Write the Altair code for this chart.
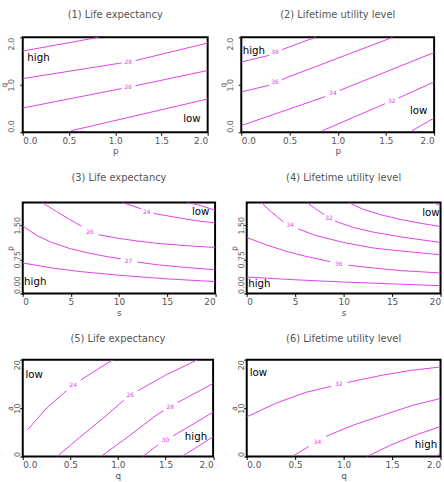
import altair as alt
import pandas as pd

MAGENTA = "#e040e8"
GREY = "#555555"
TAG_FONT = "Liberation Sans Narrow, DejaVu Sans Condensed, Liberation Sans"

# ---------------------------------------------------------------------------
# Contour polylines, one list of (x, y) points per drawn segment.
# Segments are split where a level label sits on the curve.
# ---------------------------------------------------------------------------

# (1) Life expectancy: x = p, y = q
p1_lines = [
    [(0.0, 1.71), (0.82, 2.0)],
    [(0.0, 1.13), (1.07, 1.46)],
    [(1.22, 1.51), (2.0, 1.88)],
    [(0.0, 0.51), (1.07, 0.92)],
    [(1.22, 0.98), (2.0, 1.30)],
    [(0.52, 0.03), (2.0, 0.70)],
]
p1_labels = [(1.14, 1.48, "28"), (1.14, 0.95, "26")]
p1_tags = [(0.17, 1.56, "high"), (1.83, 0.27, "low")]

# (2) Lifetime utility level: x = p, y = q
p2_lines = [
    [(0.0, 1.48), (0.29, 1.62)],
    [(0.42, 1.74), (0.77, 2.0)],
    [(0.0, 0.85), (0.29, 0.99)],
    [(0.42, 1.11), (1.57, 2.0)],
    [(0.0, 0.14), (0.87, 0.75)],
    [(1.02, 0.88), (2.0, 1.68)],
    [(0.84, 0.03), (1.49, 0.60)],
    [(1.63, 0.72), (2.0, 1.06)],
    [(1.77, 0.03), (2.0, 0.30)],
]
p2_labels = [(0.35, 1.68, "38"), (0.35, 1.05, "36"), (0.95, 0.82, "34"), (1.56, 0.66, "32")]
p2_tags = [(0.13, 1.72, "high"), (1.84, 0.45, "low")]

# (3) Life expectancy: x = s, y = p
p3_lines = [
    [(17.1, 2.0), (18.5, 1.93), (20.0, 1.83)],
    [(10.3, 2.0), (11.5, 1.92), (12.3, 1.86)],
    [(13.6, 1.76), (16.0, 1.67), (18.0, 1.60), (20.0, 1.55)],
    [(2.0, 2.0), (3.5, 1.80), (5.0, 1.61), (6.1, 1.48)],
    [(7.9, 1.29), (10.0, 1.21), (12.0, 1.15), (14.0, 1.10), (17.0, 1.05), (20.0, 1.01)],
    [(0.0, 1.48), (1.5, 1.27), (3.0, 1.12), (5.0, 0.98), (7.0, 0.88), (9.0, 0.80), (10.2, 0.76)],
    [(11.9, 0.69), (14.0, 0.63), (17.0, 0.57), (20.0, 0.52)],
    [(0.0, 0.67), (3.0, 0.56), (6.0, 0.48), (10.0, 0.40), (15.0, 0.32), (20.0, 0.26)],
]
p3_labels = [(12.9, 1.80, "24"), (7.0, 1.36, "26"), (11.0, 0.72, "27")]
p3_tags = [(18.5, 1.78, "low"), (1.3, 0.25, "high")]

# (4) Lifetime utility level: x = s, y = p
p4_lines = [
    [(19.3, 2.0), (20.0, 1.92)],
    [(10.5, 2.0), (12.0, 1.85), (14.0, 1.72), (16.0, 1.62), (18.0, 1.54), (20.0, 1.47)],
    [(6.2, 2.0), (7.3, 1.83), (8.0, 1.73)],
    [(9.1, 1.59), (11.0, 1.45), (13.0, 1.35), (16.0, 1.24), (20.0, 1.12)],
    [(1.5, 2.0), (2.5, 1.80), (3.8, 1.57)],
    [(5.3, 1.42), (7.0, 1.28), (10.0, 1.12), (13.0, 1.00), (16.0, 0.93), (20.0, 0.85)],
    [(0.0, 1.23), (2.0, 1.07), (4.0, 0.93), (6.0, 0.82), (8.6, 0.70)],
    [(10.5, 0.62), (13.0, 0.56), (16.0, 0.50), (20.0, 0.45)],
    [(0.0, 0.36), (5.0, 0.30), (10.0, 0.25), (15.0, 0.21), (20.0, 0.17)],
]
p4_labels = [(8.5, 1.66, "32"), (4.5, 1.50, "34"), (9.5, 0.65, "36")]
p4_tags = [(19.0, 1.76, "low"), (1.3, 0.20, "high")]

# (5) Life expectancy: x = q, y = a
p5_lines = [
    [(0.05, 5.5), (0.25, 10.0), (0.46, 13.6)],
    [(0.61, 15.8), (0.80, 18.2), (0.95, 20.0)],
    [(0.36, 0.0), (0.60, 4.0), (0.85, 8.0), (1.06, 11.6)],
    [(1.21, 13.6), (1.50, 16.8), (1.84, 20.0)],
    [(0.82, 0.0), (1.10, 4.0), (1.40, 8.5), (1.48, 9.5)],
    [(1.63, 11.2), (1.85, 13.5), (2.0, 15.1)],
    [(1.26, 0.0), (1.42, 2.4)],
    [(1.58, 4.3), (1.80, 6.8), (2.0, 9.2)],
    [(1.67, 0.0), (1.85, 2.2), (2.0, 4.1)],
]
p5_labels = [(0.53, 14.7, "24"), (1.13, 12.7, "26"), (1.55, 10.3, "28"), (1.50, 3.4, "30")]
p5_tags = [(0.12, 16.8, "low"), (1.82, 4.1, "high")]

# (6) Lifetime utility level: x = q, y = a
p6_lines = [
    [(0.0, 8.2), (0.3, 11.0), (0.6, 13.2), (0.87, 14.5)],
    [(1.04, 15.3), (1.4, 16.8), (1.7, 17.8), (2.0, 18.5)],
    [(0.47, 0.0), (0.64, 2.1)],
    [(0.82, 4.2), (1.1, 6.5), (1.4, 8.5), (1.7, 10.5), (2.0, 12.0)],
    [(1.24, 0.0), (1.5, 2.5), (1.75, 4.5), (2.0, 6.2)],
    [(1.95, 0.0), (2.0, 0.7)],
]
p6_labels = [(0.95, 14.9, "32"), (0.73, 3.1, "34")]
p6_tags = [(0.12, 17.3, "low"), (1.85, 2.4, "high")]

# Tick positions for the axes
p_ticks = [0.0, 0.5, 1.0, 1.5, 2.0]
s_ticks = [0, 5, 10, 15, 20]
p_half_ticks = [0.0, 0.75, 1.5]
a_ticks = [0, 5, 10, 15, 20]

panels = [
    ("(1) Life expectancy", p1_lines, p1_labels, p1_tags, "p", p_ticks, ".1f", "q", p_ticks, ".1f", [0, 2], [0, 2]),
    ("(2) Lifetime utility level", p2_lines, p2_labels, p2_tags, "p", p_ticks, ".1f", "q", p_ticks, ".1f", [0, 2], [0, 2]),
    ("(3) Life expectancy", p3_lines, p3_labels, p3_tags, "s", s_ticks, "d", "p", p_half_ticks, ".2f", [0, 20], [0, 2]),
    ("(4) Lifetime utility level", p4_lines, p4_labels, p4_tags, "s", s_ticks, "d", "p", p_half_ticks, ".2f", [0, 20], [0, 2]),
    ("(5) Life expectancy", p5_lines, p5_labels, p5_tags, "q", p_ticks, ".1f", "a", a_ticks, "d", [0, 2], [0, 20]),
    ("(6) Lifetime utility level", p6_lines, p6_labels, p6_tags, "q", p_ticks, ".1f", "a", a_ticks, "d", [0, 2], [0, 20]),
]

# Per-row geometry: panel widths, plot height, title offset, y-label gap, y-title x, column gap
row_layout = [
    dict(widths=(187, 195), height=96, title_offset=17, ylab_pad=8, ytitle_x=-18, gap=9),
    dict(widths=(194.5, 196), height=92, title_offset=20, ylab_pad=2.5, ytitle_x=-12.5, gap=11.5),
    dict(widths=(192.5, 196), height=98, title_offset=15, ylab_pad=2.5, ytitle_x=-12.5, gap=13.5),
]


def panel(spec, width, height, title_offset, ylab_pad, ytitle_x):
    title, lines, labels, tags, xn, xt, xf, yn, yt, yf, xd, yd = spec
    rows = []
    for i, seg in enumerate(lines):
        for j, (x, y) in enumerate(seg):
            rows.append({"seg": i, "order": j, "x": x, "y": y})
    line_df = pd.DataFrame(rows)
    lab_df = pd.DataFrame(labels, columns=["x", "y", "text"])
    tag_df = pd.DataFrame(tags, columns=["x", "y", "text"])

    xs = alt.Scale(domain=xd, nice=False, zero=False)
    ys = alt.Scale(domain=yd, nice=False, zero=False)
    xax = alt.Axis(values=xt, format=xf, title=xn, labelPadding=1, titlePadding=2)
    # rotated tick labels; the end labels are pushed inside the frame
    ymin, ymax = yd
    yalign = alt.expr(
        f"datum.value <= {ymin} ? 'left' : (datum.value >= {ymax} ? 'right' : 'center')"
    )
    yax = alt.Axis(values=yt, format=yf, title=yn, labelAngle=270, labelAlign=yalign,
                   labelBaseline="middle", labelPadding=ylab_pad, labelFlush=False,
                   labelFontSize=8, titleFontSize=8,
                   titleAngle=270, titleBaseline="middle", titleX=ytitle_x,
                   titleY=height / 2, titleAlign="center")

    curves = alt.Chart(line_df).mark_line(color=MAGENTA, strokeWidth=1, clip=True).encode(
        x=alt.X("x:Q", scale=xs, axis=xax),
        y=alt.Y("y:Q", scale=ys, axis=yax),
        detail="seg:N",
        order="order:Q",
    )
    levels = alt.Chart(lab_df).mark_text(color=MAGENTA, fontSize=6, font="DejaVu Sans").encode(
        x=alt.X("x:Q", scale=xs), y=alt.Y("y:Q", scale=ys), text="text:N"
    )
    marks = alt.Chart(tag_df).mark_text(color="black", fontSize=11.5, font=TAG_FONT).encode(
        x=alt.X("x:Q", scale=xs), y=alt.Y("y:Q", scale=ys), text="text:N"
    )
    return alt.layer(curves, levels, marks).properties(
        width=width, height=height,
        title=alt.TitleParams(title, fontSize=10, font="DejaVu Sans", fontWeight="normal",
                              color=GREY, offset=title_offset),
    )


rows = []
for r, lay in enumerate(row_layout):
    left = panel(panels[2 * r], lay["widths"][0], lay["height"], lay["title_offset"],
                 lay["ylab_pad"], lay["ytitle_x"])
    right = panel(panels[2 * r + 1], lay["widths"][1], lay["height"], lay["title_offset"],
                  lay["ylab_pad"], lay["ytitle_x"])
    rows.append(alt.hconcat(left, right, spacing=lay["gap"]))

chart = (
    alt.concat(*rows, columns=1, align="none", spacing={"row": 15, "column": 0})
    .properties(padding={"left": 0, "top": 6, "right": 2, "bottom": 0}, background="white")
    .configure_view(stroke="black", strokeWidth=2)
    .configure_axis(
        grid=False, domain=False, ticks=True, tickSize=3, tickColor="black", tickWidth=1,
        labelFont="DejaVu Sans", labelFontSize=9, labelColor=GREY,
        titleFont="DejaVu Sans", titleFontSize=9, titleColor=GREY, titleFontWeight="normal",
    )
)

chart.save("out.html", embed_options={"renderer": "svg", "actions": False})
